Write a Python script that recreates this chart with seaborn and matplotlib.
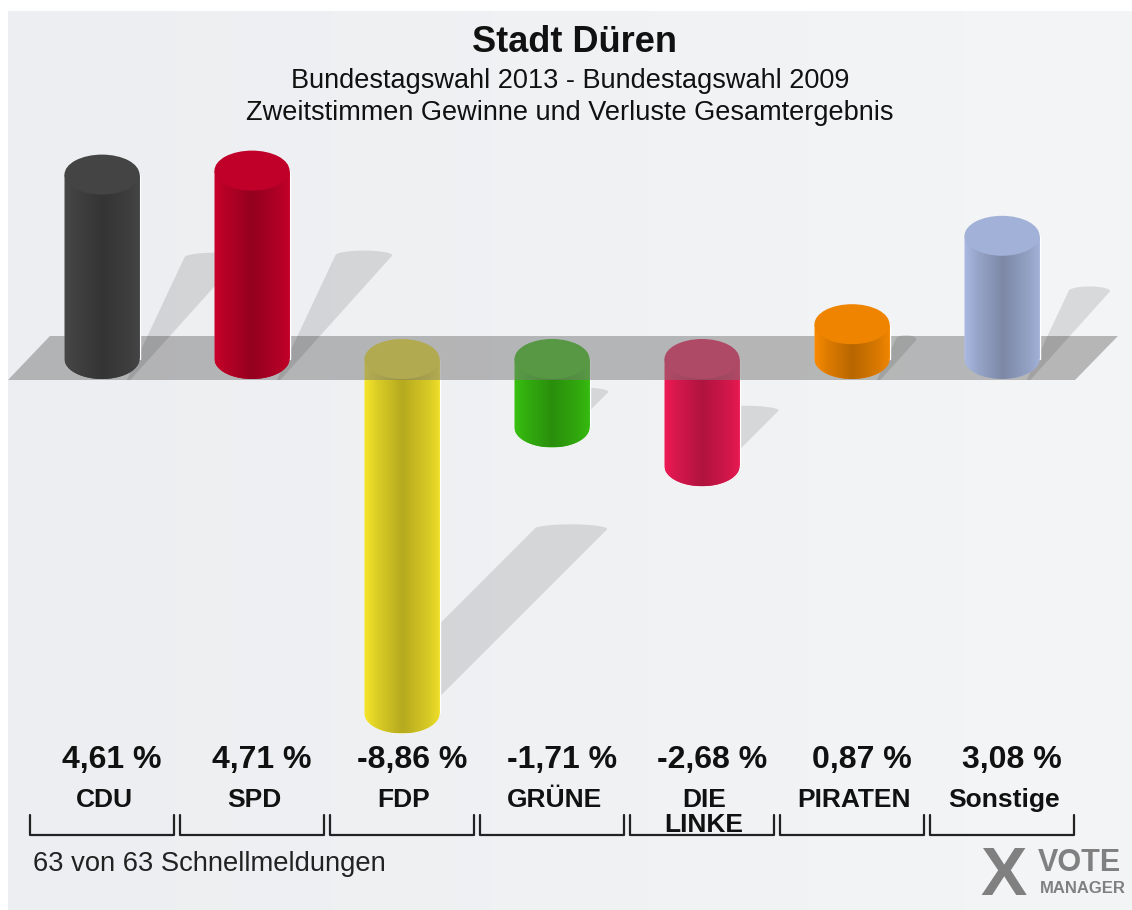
import numpy as np
import matplotlib
matplotlib.use('Agg')
import matplotlib.pyplot as plt
import seaborn as sns
from matplotlib.patches import Ellipse, Polygon, PathPatch, Rectangle
from matplotlib.path import Path
from matplotlib.transforms import blended_transform_factory

# data
parties = ['CDU', 'SPD', 'FDP', 'GRÜNE', 'DIE\nLINKE', 'PIRATEN', 'Sonstige']
changes = [4.61, 4.71, -8.86, -1.71, -2.68, 0.87, 3.08]
value_labels = ['4,61 %', '4,71 %', '-8,86 %', '-1,71 %', '-2,68 %', '0,87 %', '3,08 %']
colors = ['#474747', '#c8002a', '#f5e52a', '#38c010', '#ee1a55', '#f88a00', '#a8b8e0']

sns.set_style('white')
plt.rcParams['font.family'] = ['Liberation Sans', 'DejaVu Sans']

W, H = 1132, 910
fig = plt.figure(figsize=(W / 100, H / 100), dpi=100, facecolor='white')
ax = fig.add_axes([8 / W, 0, (W - 8) / W, (H - 11) / H])
ax.set_facecolor('#eef0f2')

sns.barplot(x=parties, y=changes, hue=parties, palette=colors, width=0.5,
            saturation=1, legend=False, ax=ax)

xlim = ((8 - 102) / 150, (W - 102) / 150)
ylim = ((359 - H) / 40, (359 - 11) / 40)

# soft background gradient
c0 = np.array(matplotlib.colors.to_rgb('#eceef1'))
c1 = np.array(matplotlib.colors.to_rgb('#f4f5f6'))
t = np.linspace(0, 1, 64)[None, :, None]
ax.imshow(c0 * (1 - t) + c1 * t, extent=(*xlim, *ylim), aspect='auto',
          zorder=0, interpolation='bicubic')

# 1 y-unit = 40 px, 1 x-unit = 150 px
px_x = 1 / 150
px_y = 1 / 40
cap_h = 1.0
shade = np.interp(np.linspace(0, 1, 80), [0, 0.15, 0.5, 0.85, 1],
                  [1.0, 0.9, 0.74, 0.88, 0.97])


def shadow_path(bl, br, tr_, tl, round_h):
    # quad with a softly rounded top edge
    cxm = (tl[0] + tr_[0]) / 2
    hw = (tr_[0] - tl[0]) / 2
    th = np.linspace(0, np.pi, 20)
    arc = [(cxm + hw * np.cos(a), tl[1] + round_h * np.sin(a)) for a in th]
    return [bl, br] + arc + [tl]


bars = sorted(ax.patches, key=lambda p: p.get_x())
for p, v, c in zip(bars, changes, colors):
    x0, w = p.get_x(), p.get_width()
    cx = x0 + w / 2
    lo, hi = min(0, v), max(0, v)
    z = 4 if v > 0 else 2
    rgb = np.array(matplotlib.colors.to_rgb(c))

    # shadow
    if v > 0:
        top = 0.55 * v / px_y          # px above zero
        band = 22                      # band top, px above zero
        bot = -21
        lx = lambda h: 45 + 0.47 * (h - band)
        rx = lambda h: 67 + 0.9 * (h - band)
        pts = shadow_path((cx + lx(bot) * px_x, bot * px_y), (cx + rx(bot) * px_x, bot * px_y),
                          (cx + rx(top) * px_x, top * px_y), (cx + lx(top) * px_x, top * px_y),
                          0.12)
        sz = 3.5
    else:
        ty = 0.48 * v
        sh = 0.52 * abs(v) * px_x / px_y
        pts = shadow_path((cx - 0.347, v), (cx + 0.14, v),
                          (cx + 0.14 + sh, ty), (cx - 0.347 + sh, ty), 0.12)
        sz = 1.5
    shadow = Polygon(pts, closed=True, facecolor='black', alpha=0.11,
                     edgecolor='none', zorder=sz)
    ax.add_patch(shadow)
    shadow.set_clip_path(Rectangle((x0, ylim[0]), 20, ylim[1] - ylim[0],
                                   transform=ax.transData))

    # cylinder body with rounded bottom
    th = np.linspace(np.pi, 2 * np.pi, 40)
    arc = list(zip(cx + w / 2 * np.cos(th), lo + cap_h / 2 * np.sin(th)))
    verts = [(x0, hi)] + arc + [(x0 + w, hi), (x0, hi)]
    codes = [Path.MOVETO] + [Path.LINETO] * (len(verts) - 2) + [Path.CLOSEPOLY]
    shape = PathPatch(Path(verts, codes), facecolor=c, edgecolor='none', zorder=z)
    ax.add_patch(shape)
    p.set_zorder(z)
    grad = np.clip(rgb[None, None, :] * shade[None, :, None], 0, 1)
    img = ax.imshow(grad, extent=(x0, x0 + w, lo - cap_h / 2, hi), aspect='auto',
                    interpolation='bicubic', zorder=z + 0.05)
    img.set_clip_path(shape)
    ax.add_patch(Ellipse((cx, hi), w, cap_h, facecolor=np.clip(rgb * 0.96, 0, 1),
                         edgecolor='none', zorder=z + 0.1))

# grey zero band
ax.add_patch(Polygon([(-0.627, -0.525), (-0.347, 0.575), (6.773, 0.575), (6.487, -0.525)],
                     closed=True, facecolor='#7a7a7a', alpha=0.5, edgecolor='none', zorder=3))

tr = blended_transform_factory(ax.transData, fig.transFigure)
fy = lambda py: 1 - py / H

for i, (name, lab) in enumerate(zip(parties, value_labels)):
    ax.text(i + 10 * px_x, fy(768), lab, transform=tr, ha='center', va='baseline',
            fontsize=23, fontweight='bold', color='#111111')
    for k, line in enumerate(name.split('\n')):
        ax.text(i + 2 * px_x, fy(807 + 25 * k), line, transform=tr, ha='center',
                va='baseline', fontsize=19, fontweight='bold', color='#111111')
    ax.plot([i - 0.483, i - 0.483, i + 0.483, i + 0.483],
            [fy(815), fy(835), fy(835), fy(815)], transform=tr,
            color='#222222', lw=1.6, clip_on=False)

fig.text(575 / W, fy(52), 'Stadt Düren', ha='center', va='baseline',
         fontsize=26, fontweight='bold', color='#111111')
fig.text(570 / W, fy(88), 'Bundestagswahl 2013 - Bundestagswahl 2009',
         ha='center', va='baseline', fontsize=19.5, color='#111111')
fig.text(570 / W, fy(120), 'Zweitstimmen Gewinne und Verluste Gesamtergebnis',
         ha='center', va='baseline', fontsize=19.5, color='#111111')
fig.text(33 / W, fy(871), '63 von 63 Schnellmeldungen', ha='left', va='baseline',
         fontsize=19.7, color='#222222')

# logo
fig.text(1004 / W, fy(877), 'X', ha='center', va='center', fontsize=50,
         fontweight='bold', color='#808080')
fig.text(1038 / W, fy(871), 'VOTE', ha='left', va='baseline', fontsize=22,
         fontweight='bold', color='#808080')
fig.text(1040 / W, fy(893), 'MANAGER', ha='left', va='baseline', fontsize=12,
         fontweight='bold', color='#808080')

ax.set_xlim(*xlim)
ax.set_ylim(*ylim)
ax.set(xticks=[], yticks=[], xlabel='', ylabel='')
for s in ax.spines.values():
    s.set_visible(False)

fig.savefig('out.png', dpi=100, facecolor='white')
